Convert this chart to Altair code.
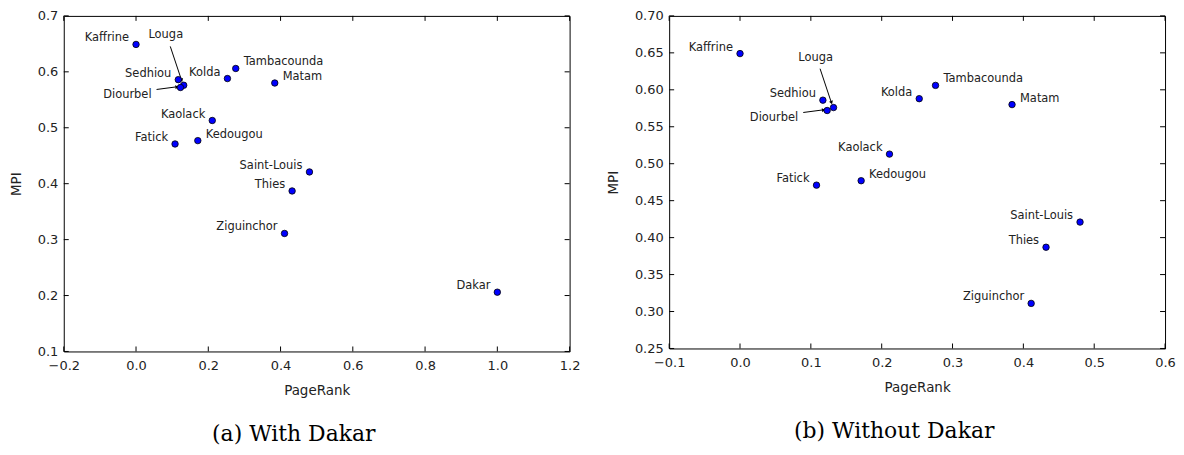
import altair as alt
import pandas as pd

# ---- data ----
regions = ["Kaffrine", "Louga", "Sedhiou", "Diourbel", "Kolda", "Tambacounda", "Matam",
           "Kaolack", "Fatick", "Kedougou", "Saint-Louis", "Thies", "Ziguinchor", "Dakar"]
pagerank = [0.000, 0.132, 0.117, 0.123, 0.253, 0.276, 0.384,
            0.211, 0.108, 0.171, 0.480, 0.432, 0.411, 1.000]
mpi = [0.649, 0.576, 0.586, 0.572, 0.588, 0.606, 0.580,
       0.513, 0.471, 0.477, 0.421, 0.387, 0.311, 0.206]

right_labeled = ["Tambacounda", "Matam", "Kedougou"]
arrow_labeled = ["Louga", "Diourbel"]

xticks_a = [-0.2, 0.0, 0.2, 0.4, 0.6, 0.8, 1.0, 1.2]
yticks_a = [0.1, 0.2, 0.3, 0.4, 0.5, 0.6, 0.7]
xticks_b = [-0.1, 0.0, 0.1, 0.2, 0.3, 0.4, 0.5, 0.6]
yticks_b = [0.25, 0.30, 0.35, 0.40, 0.45, 0.50, 0.55, 0.60, 0.65, 0.70]

caption_a = "(a) With Dakar"
caption_b = "(b) Without Dakar"

SANS = "DejaVu Sans"
TXT = "#222222"


def panel(df, xdom, ydom, xt, yt, xf, yf, W, H, caption):
    xs = alt.Scale(domain=xdom, nice=False, zero=False)
    ys = alt.Scale(domain=ydom, nice=False, zero=False)
    xax = alt.Axis(title="PageRank", values=xt, format=xf, ticks=False, domain=False,
                   grid=False, labelPadding=8, titlePadding=11, labelFlush=False,
                   labelOverlap=False)
    yax = alt.Axis(title="MPI", values=yt, format=yf, ticks=False, domain=False,
                   grid=False, labelPadding=6, titlePadding=14, labelFlush=False,
                   labelOverlap=False)
    X = alt.X("PageRank:Q", scale=xs, axis=xax)
    Y = alt.Y("MPI:Q", scale=ys, axis=yax)

    xtick_df = pd.DataFrame({"PageRank": xt})
    ytick_df = pd.DataFrame({"MPI": yt})
    tick_style = dict(color="black", strokeWidth=1)
    t_bottom = alt.Chart(xtick_df).mark_rule(**tick_style).encode(
        x=X, y=alt.value(H), y2=alt.value(H - 5))
    t_top = alt.Chart(xtick_df).mark_rule(**tick_style).encode(
        x=X, y=alt.value(0), y2=alt.value(5))
    t_left = alt.Chart(ytick_df).mark_rule(**tick_style).encode(
        y=Y, x=alt.value(0), x2=alt.value(5))
    t_right = alt.Chart(ytick_df).mark_rule(**tick_style).encode(
        y=Y, x=alt.value(W), x2=alt.value(W - 5))

    pts = alt.Chart(df).mark_circle(size=42, color="#0000ff", stroke="black",
                                    strokeWidth=0.8, opacity=1).encode(x=X, y=Y)

    df_left = df[~df["Region"].isin(right_labeled + arrow_labeled)]
    df_right = df[df["Region"].isin(right_labeled)]
    lab_style = dict(font=SANS, fontSize=11.5, color=TXT, baseline="alphabetic")
    lab_left = alt.Chart(df_left).mark_text(align="right", dx=-7, dy=-3, **lab_style).encode(
        x=X, y=Y, text="Region:N")
    lab_right = alt.Chart(df_right).mark_text(align="left", dx=8, dy=-3, **lab_style).encode(
        x=X, y=Y, text="Region:N")

    df_louga = df[df["Region"] == "Louga"]
    df_diour = df[df["Region"] == "Diourbel"]
    louga_txt = alt.Chart(df_louga).mark_text(align="center", dx=-18, dy=-47, **lab_style).encode(
        x=X, y=Y, text="Region:N")
    diour_txt = alt.Chart(df_diour).mark_text(align="right", dx=-29, dy=11, **lab_style).encode(
        x=X, y=Y, text="Region:N")
    louga_arrow = alt.Chart(df_louga).mark_rule(
        color="black", strokeWidth=1, xOffset=-13.5, x2Offset=-2.5, yOffset=-39, y2Offset=-6
    ).encode(x=X, x2="PageRank:Q", y=Y, y2="MPI:Q")
    louga_head = alt.Chart(df_louga).mark_point(
        shape="triangle", filled=True, size=16, angle=161, xOffset=-2.2, yOffset=-5.5,
        color="black", opacity=1
    ).encode(x=X, y=Y)
    diour_arrow = alt.Chart(df_diour).mark_rule(
        color="black", strokeWidth=1, xOffset=-24, x2Offset=-5, yOffset=2, y2Offset=-0.5
    ).encode(x=X, x2="PageRank:Q", y=Y, y2="MPI:Q")
    diour_head = alt.Chart(df_diour).mark_point(
        shape="triangle", filled=True, size=16, angle=81, xOffset=-4, yOffset=-0.5,
        color="black", opacity=1
    ).encode(x=X, y=Y)

    return alt.layer(
        t_bottom, t_top, t_left, t_right,
        louga_arrow, diour_arrow, louga_head, diour_head,
        pts, lab_left, lab_right, louga_txt, diour_txt,
    ).properties(
        width=W, height=H,
        title=alt.TitleParams(caption, orient="bottom", anchor="middle", font="DejaVu Serif",
                              fontSize=22, fontWeight="normal", color="black", offset=27, dx=-23),
    )


df_all = pd.DataFrame({"Region": regions, "PageRank": pagerank, "MPI": mpi})
df_no_dakar = df_all[df_all["Region"] != "Dakar"]

pa = panel(df_all, [-0.2, 1.2], [0.1, 0.7], xticks_a, yticks_a, ".1f", ".1f", 508, 337, caption_a)
pb = panel(df_no_dakar, [-0.1, 0.6], [0.25, 0.70], xticks_b, yticks_b, ".1f", ".2f", 498, 334, caption_b)

chart = alt.hconcat(pa, pb, spacing=100, bounds="flush").properties(
    padding={"left": 0, "top": 0, "right": 0, "bottom": 0}
).configure_view(
    stroke="black", strokeWidth=1
).configure_axis(
    labelFont=SANS, labelFontSize=13, labelColor=TXT,
    titleFont=SANS, titleFontSize=13.5, titleFontWeight="normal", titleColor=TXT
)

chart.save("out.html", embed_options={"renderer": "svg", "actions": False})
